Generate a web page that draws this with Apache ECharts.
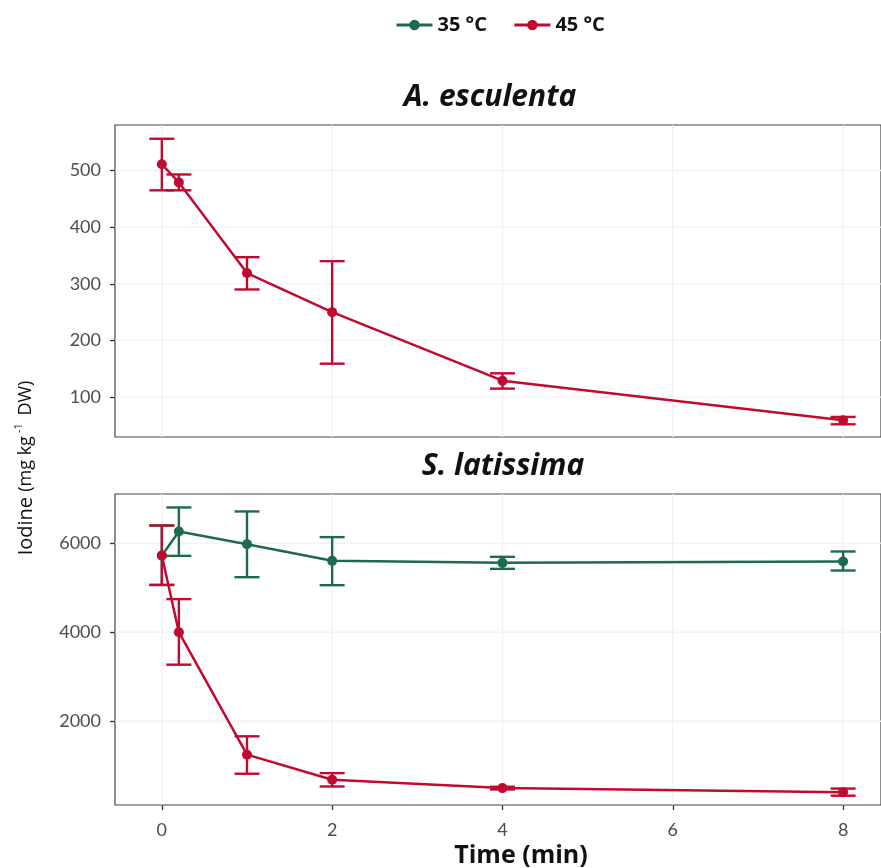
<!DOCTYPE html>
<html>
<head>
<meta charset="utf-8">
<script src="https://cdn.jsdelivr.net/npm/echarts@6/dist/echarts.min.js"></script>
<style>html,body{margin:0;padding:0;background:#fff}#c{width:881px;height:868px}</style>
</head>
<body>
<div id="c"></div>
<script>
// ---- data ----
const xTicks = [0, 2, 4, 6, 8];
const topYTicks = [100, 200, 300, 400, 500];
const botYTicks = [2000, 4000, 6000];
const times = [0, 0.2, 1, 2, 4, 8];
// A. esculenta, 45 °C
const aesc45   = [511, 479, 319, 250, 129, 59];
const aesc45Lo = [465, 465, 290, 159, 115, 52];
const aesc45Hi = [556, 493, 347, 340, 142, 65];
// S. latissima, 35 °C
const slat35   = [5721, 6261, 5977, 5602, 5557, 5587];
const slat35Lo = [5061, 5714, 5235, 5055, 5422, 5385];
const slat35Hi = [6396, 6801, 6711, 6135, 5692, 5812];
// S. latissima, 45 °C
const slat45   = [5721, 4000, 1250, 687, 499, 409];
const slat45Lo = [5061, 3271, 822, 536, 469, 329];
const slat45Hi = [6396, 4743, 1662, 836, 529, 489];

const GREEN = '#1e6a4e', RED = '#c00a30';
const FONT = 'Lato, "DejaVu Sans", sans-serif';
const HFONT = '"Open Sans", Lato, sans-serif';

function pts(v) { return times.map((t, i) => [t, v[i]]); }

function errSeries(lo, hi, color, gi) {
  return {
    type: 'custom', xAxisIndex: gi, yAxisIndex: gi, silent: true, z: 3,
    data: times.map((t, i) => [t, lo[i], hi[i]]),
    encode: { x: 0, y: [1, 2] },
    renderItem: function (params, api) {
      const x = api.value(0);
      const a = api.coord([x, api.value(1)]);
      const b = api.coord([x, api.value(2)]);
      const w = 12.5;
      const st = { stroke: color, lineWidth: 2.4, fill: null };
      return {
        type: 'group', children: [
          { type: 'line', shape: { x1: a[0], y1: a[1], x2: b[0], y2: b[1] }, style: st },
          { type: 'line', shape: { x1: a[0] - w, y1: a[1], x2: a[0] + w, y2: a[1] }, style: st },
          { type: 'line', shape: { x1: b[0] - w, y1: b[1], x2: b[0] + w, y2: b[1] }, style: st }
        ]
      };
    }
  };
}

function lineSeries(name, v, color, gi) {
  return {
    name: name, type: 'line', xAxisIndex: gi, yAxisIndex: gi, data: pts(v),
    symbol: 'circle', symbolSize: 10, showSymbol: true, z: 4,
    itemStyle: { color: color }, lineStyle: { color: color, width: 2.5 },
    emphasis: { disabled: true }
  };
}

// light major grid lines, positioned through the axes
function gridSeries(gi, yt) {
  const rows = xTicks.map(v => [0, v]).concat(yt.map(v => [1, v]));
  return {
    type: 'custom', xAxisIndex: gi, yAxisIndex: gi, silent: true, z: 1,
    data: rows,
    renderItem: function (params, api) {
      const cs = params.coordSys;
      const kind = api.value(0), v = api.value(1);
      const st = { stroke: '#f1f1f1', lineWidth: 1.3, fill: null };
      if (kind === 0) {
        const p = api.coord([v, 0]);
        return { type: 'line', shape: { x1: p[0], y1: cs.y, x2: p[0], y2: cs.y + cs.height }, style: st };
      }
      const p = api.coord([0, v]);
      return { type: 'line', shape: { x1: cs.x, y1: p[1], x2: cs.x + cs.width, y2: p[1] }, style: st };
    }
  };
}

const fmt = v => String(v);
const axisLabelStyle = { color: '#4d4d4d', fontSize: 18, fontFamily: FONT, formatter: fmt };
const tickStyle = { show: true, length: 5, lineStyle: { color: '#333', width: 1.3 } };

const option = {
  animation: false,
  backgroundColor: '#fff',
  textStyle: { fontFamily: FONT },
  title: [
    { text: 'A. esculenta', left: 485, top: 77, textAlign: 'center',
      textStyle: { fontStyle: 'italic', fontWeight: 'bold', fontSize: 30, color: '#111', fontFamily: HFONT } },
    { text: 'S. latissima', left: 498, top: 446, textAlign: 'center',
      textStyle: { fontStyle: 'italic', fontWeight: 'bold', fontSize: 30, color: '#111', fontFamily: HFONT } }
  ],
  legend: {
    data: ['35 °C', '45 °C'], left: 390, top: 10, itemWidth: 36, itemHeight: 13, itemGap: 26,
    lineStyle: { width: 3 },
    textStyle: { fontWeight: 'bold', fontSize: 20, color: '#111', fontFamily: HFONT }
  },
  grid: [
    { left: 115, top: 125, width: 768, height: 312, show: true, borderColor: '#444', borderWidth: 1.2, containLabel: false },
    { left: 115, top: 494, width: 768, height: 311, show: true, borderColor: '#444', borderWidth: 1.2, containLabel: false }
  ],
  xAxis: [
    { type: 'value', gridIndex: 0, min: -0.55, max: 8.445,
      axisLine: { show: false, onZero: false }, axisTick: { show: false }, axisLabel: { show: false }, splitLine: { show: false } },
    { type: 'value', gridIndex: 1, min: -0.55, max: 8.445,
      axisLine: { show: false, onZero: false },
      axisTick: Object.assign({ customValues: xTicks }, tickStyle),
      axisLabel: Object.assign({ margin: 16, customValues: xTicks }, axisLabelStyle),
      splitLine: { show: false } }
  ],
  yAxis: [
    { type: 'value', gridIndex: 0, min: 29.6, max: 580.3,
      axisLine: { show: false, onZero: false },
      axisTick: Object.assign({ customValues: topYTicks }, tickStyle),
      axisLabel: Object.assign({ margin: 14, customValues: topYTicks }, axisLabelStyle),
      splitLine: { show: false } },
    { type: 'value', gridIndex: 1, min: 120, max: 7103,
      axisLine: { show: false, onZero: false },
      axisTick: Object.assign({ customValues: botYTicks }, tickStyle),
      axisLabel: Object.assign({ margin: 14, customValues: botYTicks }, axisLabelStyle),
      splitLine: { show: false } }
  ],
  graphic: [
    { type: 'text', x: 26, y: 468, rotation: Math.PI / 2,
      style: {
        text: '{a|Iodine }{b|(mg kg}{s|-1}{b| DW)}',
        align: 'center', verticalAlign: 'middle',
        rich: {
          a: { fontSize: 20, fill: '#111', fontFamily: HFONT },
          b: { fontSize: 18, fill: '#111', fontFamily: HFONT },
          s: { fontSize: 11, fill: '#111', fontFamily: HFONT, padding: [0, 3, 14, 3] }
        }
      } },
    { type: 'text', x: 521, y: 856,
      style: { text: 'Time (min)', align: 'center', verticalAlign: 'middle',
        fontSize: 25, fontWeight: 'bold', fill: '#111', fontFamily: HFONT } }
  ],
  series: [
    gridSeries(0, topYTicks),
    gridSeries(1, botYTicks),
    errSeries(aesc45Lo, aesc45Hi, RED, 0),
    lineSeries('45 °C', aesc45, RED, 0),
    errSeries(slat35Lo, slat35Hi, GREEN, 1),
    lineSeries('35 °C', slat35, GREEN, 1),
    errSeries(slat45Lo, slat45Hi, RED, 1),
    lineSeries('45 °C', slat45, RED, 1)
  ]
};

const chart = echarts.init(document.getElementById('c'), null, { renderer: 'canvas' });
chart.setOption(option);
</script>
</body>
</html>
